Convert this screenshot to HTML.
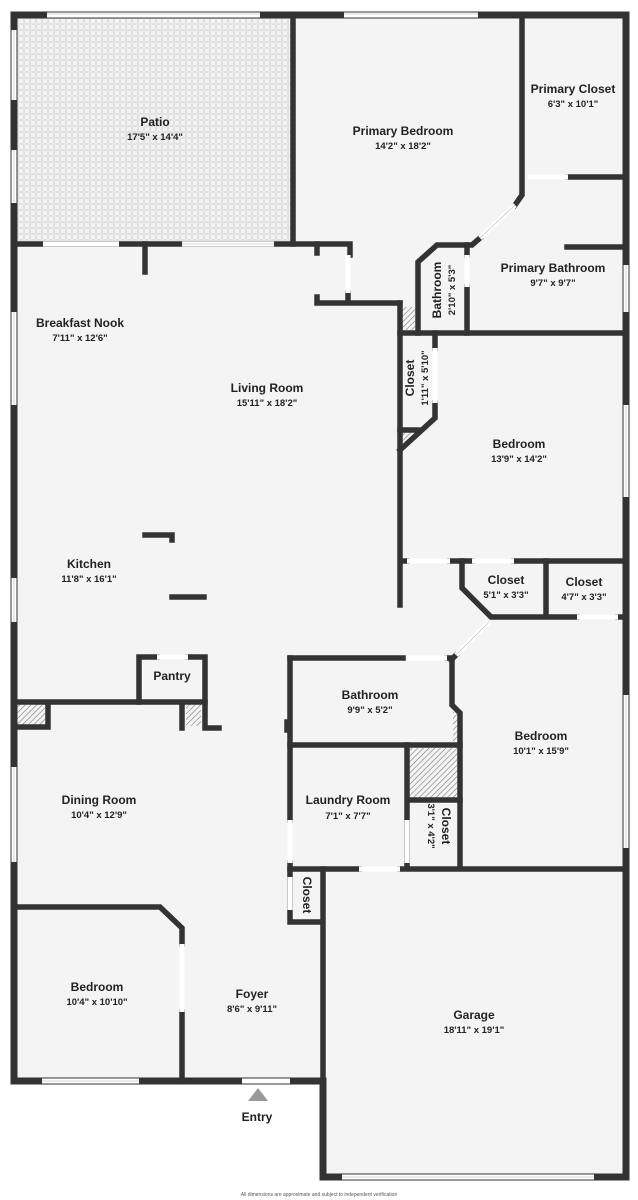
<!DOCTYPE html>
<html><head><meta charset="utf-8"><style>
html,body{margin:0;padding:0;background:#fff;}
svg{display:block;}
text{font-family:"Liberation Sans",sans-serif;fill:#222;text-anchor:middle;}
.n{font-size:12px;font-weight:bold;}
.d{font-size:9.5px;font-weight:bold;}
</style></head><body>
<svg width="638" height="1200" viewBox="0 0 638 1200" xmlns="http://www.w3.org/2000/svg">
<defs>
<pattern id="tile" width="6" height="6" patternUnits="userSpaceOnUse">
<rect width="6" height="6" fill="#f3f3f3"/>
<rect x="0.5" y="0.5" width="5" height="5" fill="none" stroke="#dcdcdc" stroke-width="0.8" rx="1"/>
</pattern>
<pattern id="hatch" width="4" height="4" patternUnits="userSpaceOnUse" patternTransform="rotate(45)">
<rect width="4" height="4" fill="#f4f4f4"/><line x1="0" y1="0" x2="0" y2="4" stroke="#777" stroke-width="1.2"/>
</pattern>
</defs>
<!-- floor -->
<rect x="14" y="15" width="612" height="1066" fill="#f4f4f4"/>
<rect x="323" y="1060" width="303" height="117" fill="#f4f4f4"/>
<rect x="17" y="18" width="276" height="226" fill="url(#tile)"/>
<!-- hatches -->
<rect x="402" y="307" width="13" height="23" fill="url(#hatch)"/>
<polygon points="402,432 420,432 402,448" fill="url(#hatch)"/>
<rect x="17" y="704" width="31" height="22" fill="url(#hatch)"/>
<rect x="186" y="704" width="15" height="22" fill="url(#hatch)"/>
<rect x="409" y="748" width="51" height="50" fill="url(#hatch)"/>
<rect x="453" y="712" width="7" height="32" fill="url(#hatch)"/>
<g stroke="#333" stroke-width="7" fill="none" stroke-linecap="square" stroke-linejoin="miter">
<!-- outer -->
<path d="M14,15 H626 V1177 H323 V1081 H14 Z"/>
</g>
<g stroke="#333" stroke-width="5.5" fill="none" stroke-linecap="square" stroke-linejoin="miter">
<path d="M293,15 V244"/>
<path d="M14,244 H350 V255"/>
<path d="M145,244 V272"/>
<path d="M317,244 V253"/>
<path d="M348,293 V303 M317,297 V303 H400"/>
<path d="M522,15 V195 L515,205"/>
<path d="M480,238 L472,245 H437 L418,262 V333"/>
<path d="M467,245 V255 M467,287 V333"/>
<path d="M400,303 V605"/>
<path d="M400,333 H626"/>
<path d="M568,177 H626 M567,247 H626"/>
<path d="M435,333 V348 M435,403 V418 L400,450 M400,430 H420"/>
<path d="M401,561 H407 M450,561 H472 M514,561 H626"/>
<path d="M462,561 V588 L491,617 H577 M618,617 H626 M546,561 V617"/>
<path d="M456,655 L451,660"/>
<path d="M290,658 H403 M447,658 H452 V705 L460,713 V868"/>
<path d="M290,658 V820 M290,863 V922 H320"/>
<path d="M287,722 V730"/>
<path d="M290,745 H460"/>
<path d="M407,745 V868 M407,800 H460"/>
<path d="M290,869 H359 M400,869 H626"/>
<path d="M323,869 V1177"/>
<path d="M14,907 H160 L182,928 V944 M182,1012 V1081"/>
<path d="M139,702 V657 H157 M188,657 H205 V728 H219"/>
<path d="M14,702 H205 M48,702 V727 H14 M182,702 V728"/>
<path d="M145,535 H172 V540 M172,597 H204"/>
</g>
<!-- windows -->
<g stroke="#fff" stroke-width="5" fill="none">
<path d="M47,15 H260 M344,15 H478"/>
<path d="M14,30 V100 M14,150 V203 M14,312 V405 M14,578 V622 M14,767 V862"/>
<path d="M626,265 V312 M626,405 V497 M626,695 V848"/>
<path d="M43,244 H119 M182,244 H274"/>
<path d="M348,255 V293"/>
<path d="M515,205 L480,238"/>
<path d="M467,255 V287 M435,348 V403"/>
<path d="M528,177 H568"/>
<path d="M407,561 H450 M472,561 H514 M577,617 H618"/>
<path d="M489,622 L456,655 M407,658 H447"/>
<path d="M290,820 V863 M407,820 V863 M290,877 V910"/>
<path d="M359,869 H400 M157,657 H188"/>
<path d="M182,944 V1012 M42,1081 H139 M242,1081 H290 M342,1177 H594"/>
</g>
<g stroke="#c8c8c8" stroke-width="0.8" fill="none">
<path d="M47,14 H260 M344,14 H478 M14,30 V100 M14,150 V203 M14,312 V405 M14,578 V622 M14,767 V862 M626,265 V312 M626,405 V497 M626,695 V848 M182,244 H274 M42,1081 H139 M342,1177 H594 M515,205 L480,238 M489,622 L456,655"/>
</g>
<!-- entry -->
<polygon points="258,1088 248,1101 268,1101" fill="#999"/>
<!-- labels -->
<text class="n" x="155" y="126">Patio</text><text class="d" x="155" y="140">17'5" x 14'4"</text>
<text class="n" x="403" y="135">Primary Bedroom</text><text class="d" x="403" y="149">14'2" x 18'2"</text>
<text class="n" x="573" y="93">Primary Closet</text><text class="d" x="573" y="107">6'3" x 10'1"</text>
<text class="n" x="553" y="272">Primary Bathroom</text><text class="d" x="553" y="286">9'7" x 9'7"</text>
<text class="n" transform="translate(441,290) rotate(-90)">Bathroom</text>
<text class="d" transform="translate(455,290) rotate(-90)">2'10" x 5'3"</text>
<text class="n" x="80" y="327">Breakfast Nook</text><text class="d" x="80" y="341">7'11" x 12'6"</text>
<text class="n" x="267" y="392">Living Room</text><text class="d" x="267" y="406">15'11" x 18'2"</text>
<text class="n" transform="translate(414,378) rotate(-90)">Closet</text>
<text class="d" transform="translate(428,378) rotate(-90)">1'11" x 5'10"</text>
<text class="n" x="519" y="448">Bedroom</text><text class="d" x="519" y="462">13'9" x 14'2"</text>
<text class="n" x="89" y="568">Kitchen</text><text class="d" x="89" y="582">11'8" x 16'1"</text>
<text class="n" x="506" y="584">Closet</text><text class="d" x="506" y="598">5'1" x 3'3"</text>
<text class="n" x="584" y="586">Closet</text><text class="d" x="584" y="600">4'7" x 3'3"</text>
<text class="n" x="172" y="680">Pantry</text>
<text class="n" x="370" y="699">Bathroom</text><text class="d" x="370" y="713">9'9" x 5'2"</text>
<text class="n" x="541" y="740">Bedroom</text><text class="d" x="541" y="754">10'1" x 15'9"</text>
<text class="n" x="99" y="804">Dining Room</text><text class="d" x="99" y="818">10'4" x 12'9"</text>
<text class="n" x="348" y="804">Laundry Room</text><text class="d" x="348" y="819">7'1" x 7'7"</text>
<text class="n" transform="translate(442,826) rotate(90)">Closet</text>
<text class="d" transform="translate(428,826) rotate(90)">3'1" x 4'2"</text>
<text class="n" transform="translate(303,895) rotate(90)">Closet</text>
<text class="n" x="97" y="991">Bedroom</text><text class="d" x="97" y="1005">10'4" x 10'10"</text>
<text class="n" x="252" y="998">Foyer</text><text class="d" x="252" y="1012">8'6" x 9'11"</text>
<text class="n" x="474" y="1019">Garage</text><text class="d" x="474" y="1033">18'11" x 19'1"</text>
<text class="n" x="257" y="1121">Entry</text>
<text x="319" y="1196" style="font-size:5px;fill:#555">All dimensions are approximate and subject to independent verification</text>
</svg>
</body></html>
